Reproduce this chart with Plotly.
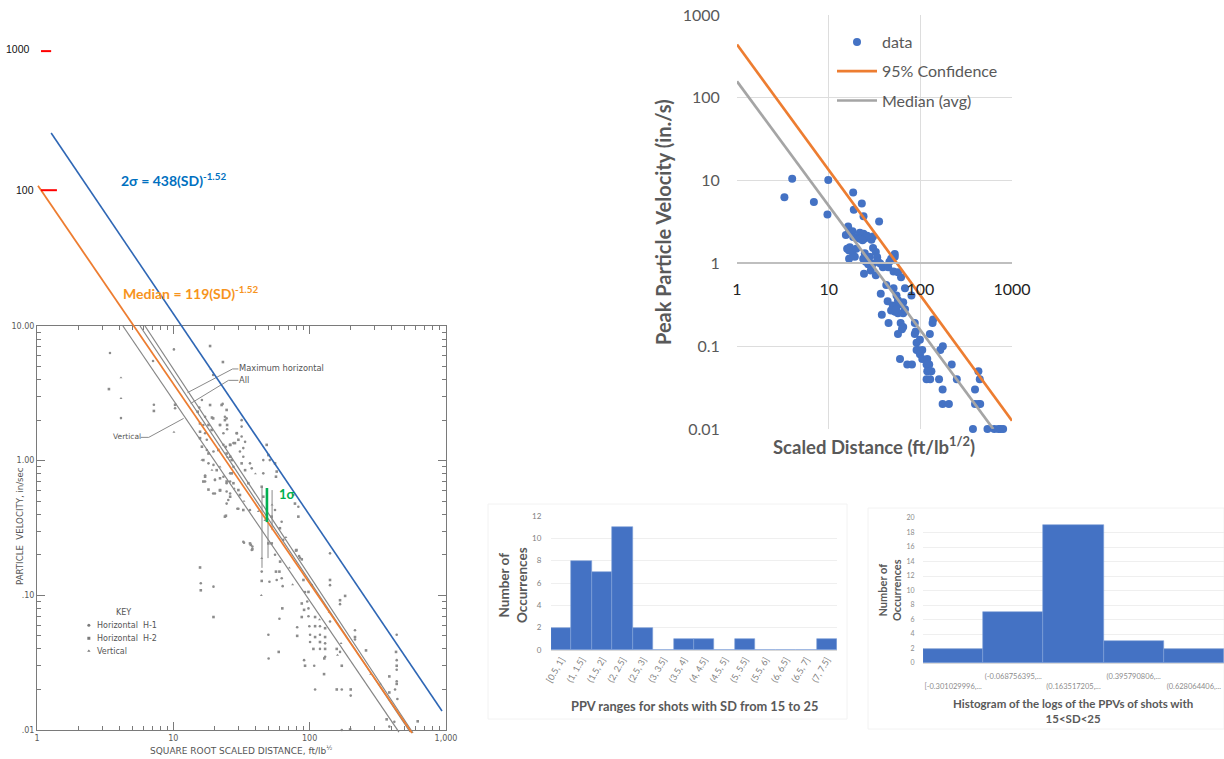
import plotly.graph_objects as go

W, H = 1224, 759

# ---------- Left panel: scanned chart with overlaid fits ----------
scan_h1 = [(16.2,2.82),(23,2.64),(15.5,2.48),(17.1,2.12),(24.6,2.06),(16.6,1.84),(22,1.84),(24.8,1.71),(17.1,1.6),(17.6,1.43),(17.6,1.2),(19.7,1.17),(24.3,1.27),(29.2,1.6),(27.6,1.35),(18.1,.955),(26.1,.805),(19.7,.93),(17.1,.775),(20.2,.72),(26.1,.70),(20.2,.57),(24.6,.59),(24.6,.48),(29.5,.44),
 (3.43,6.3),(4.13,2.07),(10.1,6.7),(7.1,5.5),(7.2,2.6),(10.3,2.45),
 (19.6,4.33),(23.9,2.12),(31.7,2.0),(31.7,1.79),(23.3,1.6),(31.7,1.51),(23.3,1.31),(33.6,1.38),(32.6,1.24),(30.8,1.17),(32.6,1.07),(51,1.01),(36.5,.955),(37.6,.877),(45.7,1.01),(45.7,.805),(27.6,.90),(23.3,.76),(20.2,.72),(24.6,.68),(17.1,.70),(19.6,.57),(26.1,.57),(25.3,.51),(30,.44),(36.5,.43),(75.9,.556),(82.6,.455),(55.7,.43),(62.3,.352),(32.6,.25),(37.6,.217),(64,.258),(85,.19),
 (33,.246),(38,.23),(44.5,.15),(50.7,.126),(57.3,.13),(62.4,.134),(55.7,.2),(63.4,.117),(83.6,.196),(141,.205),(141,.119),(92.5,.106),(103.5,.119),(15.9,.123),(19.7,.116),(49.8,.051),(60,.067),(50,.034),(96,.09),(98,.08),(98,.07),(81,.058),(99.5,.059),(119,.059),(100.7,.051),(119,.051),(100.7,.045),(129.8,.044),(119,.04),(129.8,.035),(91,.033),(108,.03),(109.6,.02),(172,.02),(200,.018),(167,.086),(141,.064),(167,.038),(215,.055),(215,.047),(435,.051),(435,.033),(435,.028),(435,.023),(423,.02),(440,.017),(418,.0115),(384,.0106),(172,.01)]
scan_h2 = [(18.6,2.59),(24.6,2.38),(15.1,2.31),(19.2,2.09),(15.7,1.89),(18.1,1.84),(24.8,1.84),(15.7,1.64),(15.7,1.47),(16.2,1.27),(18.1,1.13),(21.4,1.2),(26.1,1.31),(30,1.43),(16.6,1.01),(26.8,1.01),(20.8,.85),(22,.74),(16.6,.70),(24.6,.70),(18.1,.61),(22,.605),(26.1,.54),(24.3,.39),(30,.605),
 (3.37,3.4),(18.6,7.1),(23.1,5.4),(7.2,2.34),(10.3,2.6),
 (22.6,2.59),(23.9,2.0),(19.6,2.06),(22,1.84),(19.1,1.69),(29.2,1.6),(26.1,1.31),(28.3,1.35),(48.4,1.31),(24.6,1.13),(26.1,1.07),(49.8,1.1),(55.7,.955),(31.7,.955),(33.6,.85),(57.3,.83),(56.6,.76),(26.8,.805),(17.1,.76),(27.6,.68),(35.5,.68),(44.5,.64),(22,.60),(30.8,.556),(23.9,.384),(32.6,.43),(45.7,.54),(78,.48),(82.6,.384),(52.6,.384),(60.5,.315),(36.5,.243),(49.8,.243),(80,.217),
 (37,.237),(38,.22),(44.5,.128),(56.6,.15),(60,.15),(52.7,.243),(60.7,.178),(79.4,.215),(87.5,.185),(141,.13),(90,.13),(98,.106),(15.7,.161),(15.9,.109),(19.7,.069),(63,.08),(59.3,.038),(87.5,.087),(91,.078),(87.5,.069),(109.6,.069),(81,.05),(109.6,.059),(129.8,.057),(109.6,.049),(129.8,.049),(119,.045),(106.5,.04),(129.8,.04),(128,.034),(92.5,.03),(127.5,.026),(158,.02),(200,.02),(167,.092),(182,.099),(158,.04),(172,.03),(215,.049),(259,.039),(430,.038),(435,.03),(384,.025),(435,.022),(384,.019),(367,.012),(620,.0116),(723,.0099),(198,.0101)]
scan_v = [(4.13,2.9),(4.13,4.13),(10.1,1.63),(18.8,4.8),(44.5,.188),(44.2,.1),(16.2,1.01),(19.2,.85),(22,.9),(25,1.06),(28,.62),(33,.5),(40,.8),(42,.42),(47,.36),(53,.47),(67,.27),(71,.16),(75,.12),(118,.066),(139,.075),(170,.044),(160,.036),(280,.026),(330,.022)]

scan_vert_x, scan_vert_y = [4.27, 452], [10, .00966]
scan_all_x, scan_all_y = [5.7, 545], [10, .00966]
scan_max_x, scan_max_y = [6.2, 573], [10, .0095]

leader_max_x, leader_max_y = [12.7, 27.2, 30], [3.2, 4.8, 4.8]
leader_all_x, leader_all_y = [13.4, 25.4, 30], [2.66, 3.95, 3.95]
leader_vert_x, leader_vert_y = [5.77, 6.6, 11.9], [1.49, 1.49, 2.06]
bar1_x, bar1_y = [44.7, 44.7], [.638, .16]
bar2_x, bar2_y = [49.5, 49.5], [.35, .189]
bar3_x, bar3_y = [53, 53], [.605, .305]

sigma2_x, sigma2_y = [1.27, 935], [271, .01384]
median_x, median_y = [1.017, 563], [110, .0095]
green_x, green_y = [48.6, 48.6], [.627, .35]
red1000_x, red1000_y = [1.07, 1.27], [1100, 1100]
red100_x, red100_y = [1.07, 1.40], [102, 102]
key_x = [2.4]
key_y1, key_y2, key_y3 = [.06], [.048], [.0386]

scan_x_ticks = [1, 10, 100, 1000]
scan_x_text = ["1", "10", "100", "1,000"]
scan_y_ticks = [.01, .1, 1, 10]
scan_y_text = [".01", ".10", "1.00", "10.00"]
decade_minor = [2, 3, 4, 5, 6, 7, 8, 9]

# ---------- Top right: PPV vs scaled distance ----------
ppv_sd = [3.29,4.0,6.9,9.9,9.7,18.5,23,18.8,24,35.5,16.3,15.4,16.7,18.2,18.5,20,21.9,24,21.9,24.8,26.3,29.3,30.5,23.4,
 15.9,17,16.7,18.2,16.7,19.3,20,24.8,28,30.5,32.7,33.8,23.8,25.4,27,28.8,24.3,32.7,30.5,34.6,36.5,39,44.6,46,48,52.6,52.6,51,57,61.6,
 42.5,51,68,37,80,44,55,57,65,50,55,59,48,53,57,65,68,55,38,45,61,65,63,57,87,89,87,138,136,127,99,91,94,105,91,99,105,60,72,81,
 119,125,117,119,132,117,128,176,165,220,250,160,175,175,205,430,445,395,395,430,450,375,540,640,710,750,800]
ppv_val = [6.3,10.5,5.5,10.2,3.9,7.2,5.3,4.45,3.7,3.2,2.8,2.2,2.45,2.45,2.08,2.04,2.35,2.28,1.98,2.0,2.16,1.93,2.12,1.9,
 1.5,1.57,1.43,1.37,1.14,1.2,1.5,1.33,1.2,1.53,1.37,1.19,1.14,1.05,.98,.82,.75,.72,1,1.05,1,.9,.9,1.05,1.14,1.3,1.2,.8,.78,.68,
 .55,.5,.5,.43,.41,.35,.41,.36,.34,.31,.31,.32,.27,.26,.25,.25,.28,.28,.24,.19,.19,.17,.16,.14,.19,.15,.14,.21,.19,.14,.12,.11,.09,.09,.09,.08,.07,.07,.06,.06,
 .07,.06,.06,.05,.05,.04,.04,.1,.09,.06,.04,.04,.03,.02,.02,.05,.04,.03,.02,.02,.02,.01,.01,.01,.01,.01,.01]
conf_x, conf_y = [1, 1000], [440, .0126]
avg_x, avg_y = [1, 625], [158, .01]
main_ticks = [1, 10, 100, 1000]
main_y_ticks = [.01, .1, 1, 10, 100, 1000]
main_y_text = ["0.01", "0.1", "1", "10", "100", "1000"]

# ---------- Histograms ----------
ppv_bins = ["[0.5, 1]", "(1, 1.5]", "(1.5, 2]", "(2, 2.5]", "(2.5, 3]", "(3, 3.5]", "(3.5, 4]", "(4, 4.5]",
            "(4.5, 5]", "(5, 5.5]", "(5.5, 6]", "(6, 6.5]", "(6.5, 7]", "(7, 7.5]"]
ppv_counts = [2, 8, 7, 11, 2, 0, 1, 1, 0, 1, 0, 0, 0, 1]
log_bins = ["[-0.301029996,...", "(-0.068756395,...", "(0.163517205,...", "(0.395790806,...", "(0.628064406,..."]
log_counts = [2, 7, 19, 3, 2]


def dx(a, b):
    return [a / W, b / W]


def dy(top, bottom):
    return [1 - bottom / H, 1 - top / H]


def pair(series):
    return [p[0] for p in series], [p[1] for p in series]


fig = go.Figure()
SCAN = "#7a7a7a"
BLUE = "#4472C4"
ORANGE = "#ED7D31"
GRAY = "#A5A5A5"

# scan markers
for series, sym in ((scan_h1, "circle"), (scan_h2, "square"), (scan_v, "triangle-up")):
    xs, ys = pair(series)
    fig.add_trace(go.Scatter(x=xs, y=ys, mode="markers", showlegend=False, cliponaxis=False,
                             marker=dict(symbol=sym, size=2.6, color="#8c8c8c")))


def over(x, y, color, width):
    fig.add_trace(go.Scatter(x=x, y=y, mode="lines", showlegend=False, cliponaxis=False,
                             line=dict(color=color, width=width), xaxis="x2", yaxis="y2"))


for x, y in ((scan_vert_x, scan_vert_y), (scan_all_x, scan_all_y), (scan_max_x, scan_max_y)):
    over(x, y, "#858585", 1.2)
for x, y in ((leader_max_x, leader_max_y), (leader_all_x, leader_all_y), (leader_vert_x, leader_vert_y),
             (bar1_x, bar1_y), (bar2_x, bar2_y), (bar3_x, bar3_y)):
    over(x, y, "#8a8a8a", 1)
over(sigma2_x, sigma2_y, "#2F67B5", 1.6)
over(median_x, median_y, ORANGE, 1.8)
over(green_x, green_y, "#00B050", 2.6)
over(red1000_x, red1000_y, "#FF0000", 2)
over(red100_x, red100_y, "#FF0000", 2)
for yy, sym in ((key_y1, "circle"), (key_y2, "square"), (key_y3, "triangle-up")):
    fig.add_trace(go.Scatter(x=key_x, y=yy, mode="markers", showlegend=False, xaxis="x2", yaxis="y2",
                             marker=dict(symbol=sym, size=3, color=SCAN)))

# main chart
fig.add_trace(go.Scatter(x=ppv_sd, y=ppv_val, mode="markers", name="data", legendgroup="a", cliponaxis=False,
                         marker=dict(color=BLUE, size=8), xaxis="x3", yaxis="y3"))
fig.add_trace(go.Scatter(x=conf_x, y=conf_y, mode="lines", name="95% Confidence", legendgroup="b", cliponaxis=False,
                         line=dict(color=ORANGE, width=2.7), xaxis="x3", yaxis="y3"))
fig.add_trace(go.Scatter(x=avg_x, y=avg_y, mode="lines", name="Median (avg)", legendgroup="c", cliponaxis=False,
                         line=dict(color=GRAY, width=2.7), xaxis="x3", yaxis="y3"))

# histograms
fig.add_trace(go.Bar(x=ppv_bins, y=ppv_counts, marker=dict(color=BLUE, line=dict(color="#7f9fd8", width=0.6)),
                     showlegend=False, xaxis="x4", yaxis="y4"))
fig.add_trace(go.Bar(x=log_bins, y=log_counts, marker=dict(color=BLUE, line=dict(color="#7f9fd8", width=0.6)),
                     showlegend=False, xaxis="x5", yaxis="y5"))

scan_font = dict(family="DejaVu Sans", size=8, color="#5a5a5a")
fig.update_layout(
    width=W, height=H, margin=dict(l=0, r=0, t=0, b=0, pad=0, autoexpand=False), paper_bgcolor="white", plot_bgcolor="rgba(0,0,0,0)",
    bargap=0, font=dict(family="Lato"),
    xaxis=dict(type="log", domain=dx(37, 446), range=[0, 3], tickmode="array", tickvals=scan_x_ticks, ticktext=scan_x_text,
               ticks="inside", ticklen=8, tickcolor=SCAN, showline=True, linecolor=SCAN, linewidth=1, mirror="allticks",
               showgrid=False, zeroline=False, tickfont=scan_font, anchor="y", automargin=False,
               minor=dict(ticks="inside", ticklen=4, tickcolor=SCAN, tickmode="array",
                          tickvals=[m * d for d in (1, 10, 100) for m in decade_minor], showgrid=False)),
    yaxis=dict(type="log", domain=dy(326, 730), range=[-2, 1], tickmode="array", tickvals=scan_y_ticks, ticktext=scan_y_text,
               ticks="inside", ticklen=8, tickcolor=SCAN, showline=True, linecolor=SCAN, linewidth=1, mirror="allticks",
               showgrid=False, zeroline=False, tickfont=scan_font, anchor="x", automargin=False,
               minor=dict(ticks="inside", ticklen=4, tickcolor=SCAN, tickmode="array",
                          tickvals=[m * d for d in (.01, .1, 1) for m in decade_minor], showgrid=False)),
    xaxis2=dict(type="log", domain=dx(37, 446), range=[0, 3], visible=False, anchor="y2", automargin=False),
    yaxis2=dict(type="log", domain=dy(40, 735), range=[-2.037, 3.124], visible=False, anchor="x2", automargin=False),
    xaxis3=dict(type="log", domain=dx(737, 1012), range=[0, 3], tickmode="array", tickvals=main_ticks,
                ticktext=[str(t) for t in main_ticks], anchor="free", position=1 - 263 / H, automargin=False,
                showgrid=True, gridcolor="#DDDDDD", gridwidth=1.3, zeroline=False,
                showline=True, linecolor="#BFBFBF", linewidth=1.5,
                ticks="outside", ticklen=12, tickcolor="rgba(0,0,0,0)", tickfont=dict(family="Lato", size=16, color="#222222")),
    yaxis3=dict(type="log", domain=dy(15, 429), range=[-2, 3], tickmode="array", tickvals=main_y_ticks, ticktext=main_y_text,
                anchor="x3", showgrid=True, gridcolor="#DDDDDD", gridwidth=1.3, zeroline=False, showline=False, automargin=False,
                ticks="outside", ticklen=13, tickcolor="rgba(0,0,0,0)", tickfont=dict(family="Lato", size=16, color="#595959")),
    xaxis4=dict(type="category", domain=dx(551, 837), range=[-0.5, 13.5], anchor="y4", tickangle=-60, showgrid=False, automargin=False,
                showline=True, linecolor="#D9D9D9", tickfont=dict(family="Lato", size=9, color="#7f7f7f"), ticks=""),
    yaxis4=dict(domain=dy(516, 650), range=[0, 12], dtick=2, anchor="x4", showgrid=True, gridcolor="#EFEFEF", zeroline=False, automargin=False,
                ticks="outside", ticklen=7, tickcolor="rgba(0,0,0,0)", tickfont=dict(family="Lato", size=8, color="#7f7f7f")),
    xaxis5=dict(type="category", domain=dx(923, 1224), range=[-0.5, 4.5], anchor="y5", showgrid=False, tickmode="array", automargin=False,
                tickvals=log_bins, ticktext=["&nbsp;<br>" + log_bins[0], log_bins[1], "&nbsp;<br>" + log_bins[2], log_bins[3], "&nbsp;<br>" + log_bins[4]],
                showline=True, linecolor="#D9D9D9", tickangle=0, ticks="outside", ticklen=6, tickcolor="rgba(0,0,0,0)",
                tickfont=dict(family="Lato", size=7.5, color="#8c8c8c")),
    yaxis5=dict(domain=dy(518, 663), range=[0, 20], dtick=2, anchor="x5", showgrid=True, gridcolor="#EFEFEF", zeroline=False, automargin=False,
                ticks="outside", ticklen=6, tickcolor="rgba(0,0,0,0)", tickfont=dict(family="Lato", size=7, color="#8c8c8c")),
    legend=dict(x=832 / W, y=1 - 25 / H, xanchor="left", yanchor="top", bgcolor="rgba(0,0,0,0)", itemwidth=40,
                tracegroupgap=5.5, font=dict(family="Lato", size=16, color="#595959")),
    shapes=[
        dict(type="rect", xref="paper", yref="paper", x0=488 / W, x1=847 / W, y0=1 - 719 / H, y1=1 - 504 / H,
             line=dict(color="#F2F2F2", width=1), layer="below"),
        dict(type="rect", xref="paper", yref="paper", x0=868 / W, x1=1224 / W, y0=1 - 729 / H, y1=1 - 508 / H,
             line=dict(color="#F2F2F2", width=1), layer="below"),
    ],
)


def text(t, x, y, size, color, family="Lato", bold=False, anchor="center", angle=0):
    fig.add_annotation(text=f"<b>{t}</b>" if bold else t, x=x / W, y=1 - y / H, xref="paper", yref="paper",
                       showarrow=False, xanchor=anchor, yanchor="middle", textangle=angle,
                       font=dict(family=family, size=size, color=color), align="center", borderpad=0)


# left panel text
text("1000", 5, 49, 10.5, "#111111", anchor="left", family="Liberation Sans")
text("100", 15, 190, 10.5, "#111111", anchor="left", family="Liberation Sans")
text("2σ = 438(SD)<sup>-1.52</sup>", 120, 179, 14, "#0070C0", bold=True, anchor="left")
text("Median = 119(SD)<sup>-1.52</sup>", 122, 292, 14, "#F7941D", bold=True, anchor="left")
text("1σ", 278, 494, 13, "#00B050", bold=True, anchor="left")
text("Maximum horizontal", 238, 368, 8.3, "#555555", family="DejaVu Sans", anchor="left")
text("All", 238, 380, 8.3, "#555555", family="DejaVu Sans", anchor="left")
text("Vertical", 112, 436, 7.5, "#555555", family="DejaVu Sans", anchor="left")
text("KEY", 123, 612, 8, "#555555", family="DejaVu Sans")
text("Horizontal  H-1", 96, 625, 8, "#555555", family="DejaVu Sans", anchor="left")
text("Horizontal  H-2", 96, 638, 8, "#555555", family="DejaVu Sans", anchor="left")
text("Vertical", 96, 651, 8, "#555555", family="DejaVu Sans", anchor="left")
text("PARTICLE  VELOCITY, in/sec", 20, 526, 8.6, "#555555", family="DejaVu Sans", angle=-90)
text("SQUARE ROOT SCALED DISTANCE, ft/lb<sup>½</sup>", 241, 750, 9, "#555555", family="DejaVu Sans")

# main chart titles
text("Peak Particle Velocity (in./s)", 663, 222, 20, "#595959", bold=True, angle=-90)
text("Scaled Distance (ft/lb<sup>1/2</sup>)", 874, 445, 18.5, "#595959", bold=True)

# histogram titles
text("Number of<br>Occurrences", 513, 585, 13.5, "#595959", bold=True, angle=-90)
text("PPV ranges for shots with SD from 15 to 25", 694, 706, 12.8, "#595959", bold=True)
text("Number of<br>Occurrences", 889, 590, 11, "#595959", bold=True, angle=-90)
text("Histogram of the logs of the PPVs of shots with<br>15&lt;SD&lt;25", 1073, 711, 11.5, "#595959", bold=True)

fig.write_html("out.html", config={"displayModeBar": False}, post_script="document.body.style.margin='0';")
